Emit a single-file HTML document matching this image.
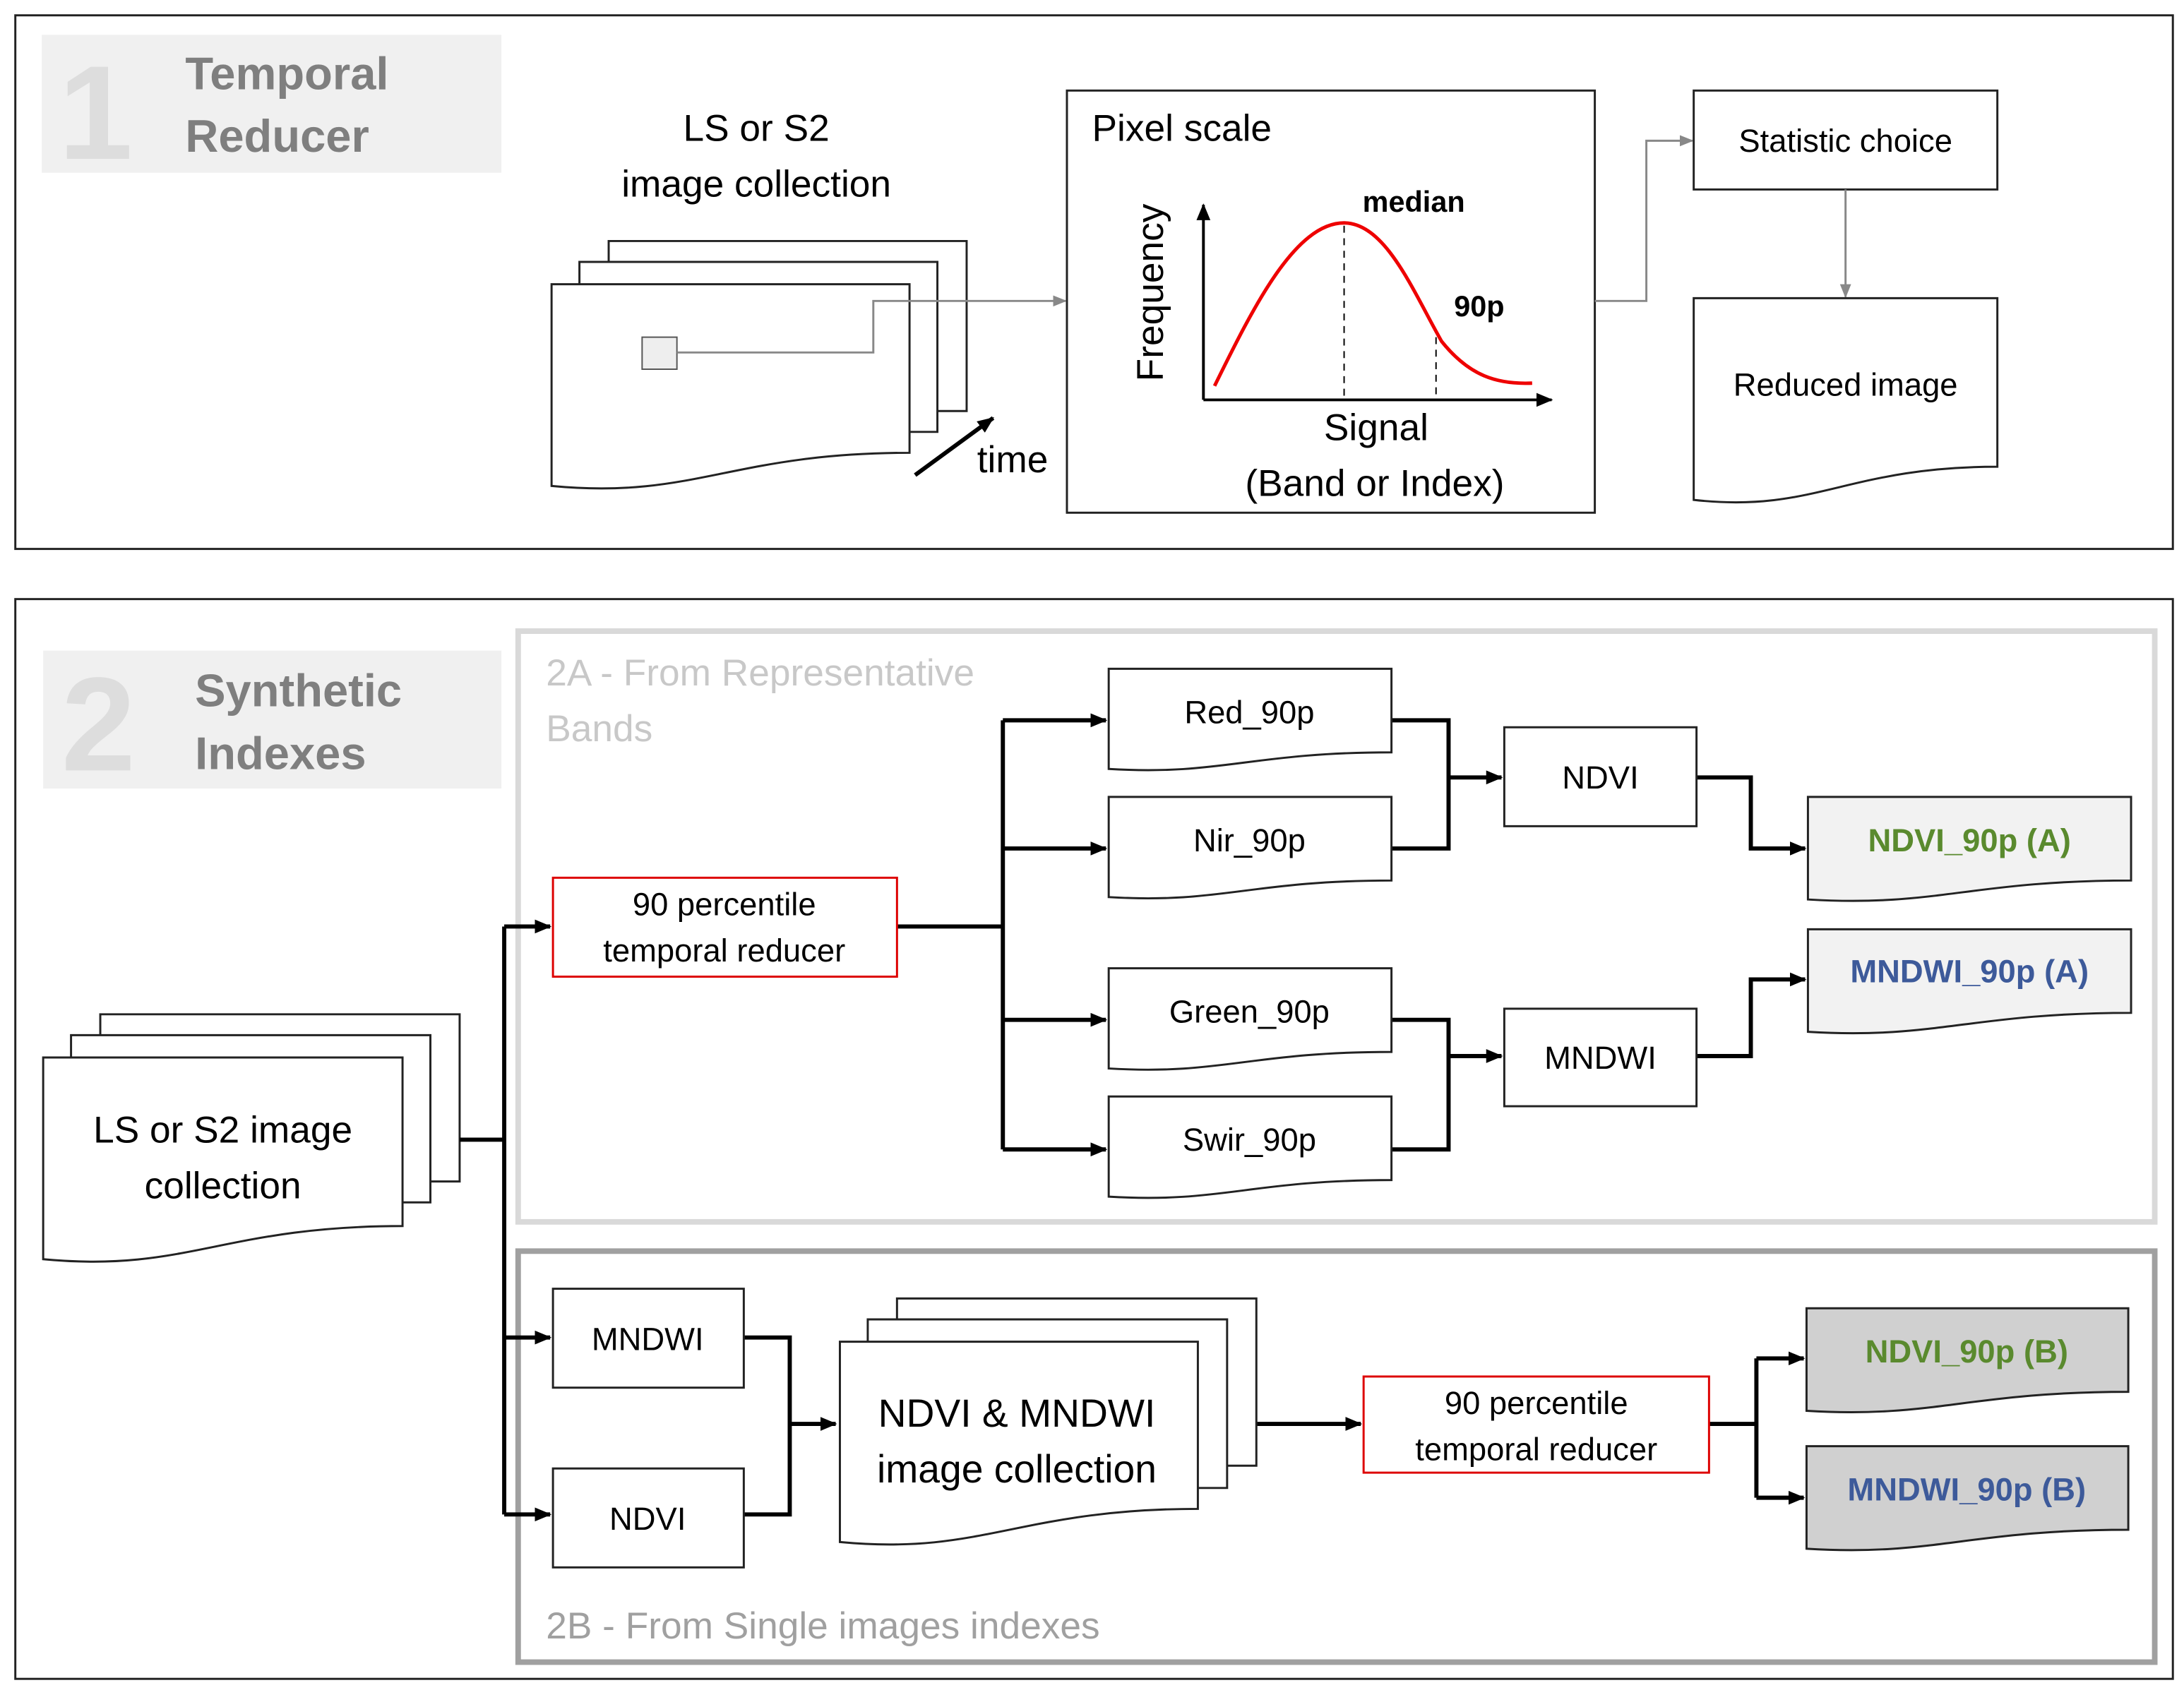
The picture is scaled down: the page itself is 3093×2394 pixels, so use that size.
<!DOCTYPE html>
<html><head><meta charset="utf-8"><style>
html,body{margin:0;padding:0;background:#fff}
svg{display:block}
text{font-family:"Liberation Sans","DejaVu Sans",sans-serif}
</style></head><body>
<svg id="s" width="3093" height="2394" viewBox="0 0 1568 1213" preserveAspectRatio="none" xmlns="http://www.w3.org/2000/svg">
<defs>
<marker id="ag" markerWidth="10" markerHeight="10" refX="9" refY="5" orient="auto" markerUnits="userSpaceOnUse"><path d="M0,1 L10,5 L0,9 z" fill="#888"/></marker>
<marker id="ab" markerWidth="12" markerHeight="12" refX="11" refY="6" orient="auto" markerUnits="userSpaceOnUse"><path d="M0,1 L12,6 L0,11 z" fill="#000"/></marker>
</defs>
<rect width="1568" height="1213" fill="#fff"/>
<!-- Panel 1 -->
<rect x="11" y="11" width="1549" height="383" fill="none" stroke="#222" stroke-width="1.5"/>
<rect x="30" y="25" width="330" height="99" fill="#f0f0f0"/>
<text x="42" y="114" font-size="96" font-weight="bold" fill="#ddd">1</text>
<text x="133" y="64" font-size="33" font-weight="bold" fill="#7f7f7f">Temporal</text>
<text x="133" y="109" font-size="33" font-weight="bold" fill="#7f7f7f">Reducer</text>
<g id="docs1"></g>
<rect x="461" y="242" width="25" height="23" fill="#eee" stroke="#555"/>
<polyline points="486,253 627,253 627,216 765,216" fill="none" stroke="#888" stroke-width="1.5" marker-end="url(#ag)"/>
<text x="543" y="101" font-size="27" text-anchor="middle">LS  or S2</text>
<text x="543" y="141" font-size="27" text-anchor="middle">image collection</text>
<line x1="657" y1="341" x2="713" y2="300" stroke="#000" stroke-width="3" marker-end="url(#ab)"/>
<text x="727" y="339" font-size="27" text-anchor="middle">time</text>
<rect x="766" y="65" width="379" height="303" fill="#fff" stroke="#222" stroke-width="1.5"/>
<text x="784" y="101" font-size="27">Pixel scale</text>
<line x1="864" y1="287" x2="864" y2="147" stroke="#000" stroke-width="2" marker-end="url(#ab)"/>
<line x1="864" y1="287" x2="1114" y2="287" stroke="#000" stroke-width="2" marker-end="url(#ab)"/>
<path d="M872,277 C900,220 930,160 965,160 C995,160 1015,210 1035,245 C1055,270 1075,276 1100,275" fill="none" stroke="#e00" stroke-width="2.5"/>
<line x1="965" y1="162" x2="965" y2="287" stroke="#000" stroke-dasharray="5,4"/>
<line x1="1031" y1="242" x2="1031" y2="287" stroke="#000" stroke-dasharray="5,4"/>
<text x="1015" y="152" font-size="21" font-weight="bold" text-anchor="middle">median</text>
<text x="1062" y="227" font-size="21" font-weight="bold" text-anchor="middle">90p</text>
<text x="0" y="0" font-size="27" text-anchor="middle" transform="translate(835,210) rotate(-90)">Frequency</text>
<text x="988" y="316" font-size="27" text-anchor="middle">Signal</text>
<text x="987" y="356" font-size="27" text-anchor="middle">(Band or Index)</text>
<polyline points="1145,216 1182,216 1182,101 1215,101" fill="none" stroke="#888" stroke-width="1.5" marker-end="url(#ag)"/>
<rect x="1216" y="65" width="218" height="71" fill="#fff" stroke="#222" stroke-width="1.5"/>
<text x="1325" y="109" font-size="23" text-anchor="middle">Statistic choice</text>
<line x1="1325" y1="136" x2="1325" y2="213" stroke="#888" stroke-width="1.5" marker-end="url(#ag)"/>
<g id="docs2"></g>
<text x="1325" y="284" font-size="23" text-anchor="middle">Reduced image</text>
<!-- Panel 2 -->
<rect x="11" y="430" width="1549" height="775" fill="none" stroke="#222" stroke-width="1.5"/>
<rect x="31" y="467" width="329" height="99" fill="#f0f0f0"/>
<text x="44" y="553" font-size="96" font-weight="bold" fill="#ddd">2</text>
<text x="140" y="507" font-size="33" font-weight="bold" fill="#7f7f7f">Synthetic</text>
<text x="140" y="552" font-size="33" font-weight="bold" fill="#7f7f7f">Indexes</text>
<rect x="372" y="453" width="1175" height="424" fill="none" stroke="#d9d9d9" stroke-width="4"/>
<text x="392" y="492" font-size="27" fill="#c8c8c8">2A - From Representative</text>
<text x="392" y="532" font-size="27" fill="#c8c8c8">Bands</text>
<rect x="372" y="898" width="1175" height="295" fill="none" stroke="#a0a0a0" stroke-width="4"/>
<text x="392" y="1176" font-size="27" fill="#a0a0a0">2B - From Single images indexes</text>
<g id="docs3"></g>
<text x="160" y="820" font-size="27" text-anchor="middle">LS  or S2  image</text>
<text x="160" y="860" font-size="27" text-anchor="middle">collection</text>
<g fill="none" stroke="#000" stroke-width="3">
<line x1="330" y1="818" x2="362" y2="818"/>
<line x1="362" y1="665" x2="362" y2="1087"/>
<line x1="362" y1="665" x2="395" y2="665" marker-end="url(#ab)"/>
<line x1="362" y1="960" x2="395" y2="960" marker-end="url(#ab)"/>
<line x1="362" y1="1087" x2="395" y2="1087" marker-end="url(#ab)"/>
<line x1="644" y1="665" x2="720" y2="665"/>
<line x1="720" y1="517" x2="720" y2="825"/>
<line x1="720" y1="517" x2="794" y2="517" marker-end="url(#ab)"/>
<line x1="720" y1="609" x2="794" y2="609" marker-end="url(#ab)"/>
<line x1="720" y1="732" x2="794" y2="732" marker-end="url(#ab)"/>
<line x1="720" y1="825" x2="794" y2="825" marker-end="url(#ab)"/>
<polyline points="999,517 1040,517 1040,609 999,609"/>
<line x1="1040" y1="558" x2="1078" y2="558" marker-end="url(#ab)"/>
<polyline points="999,732 1040,732 1040,825 999,825"/>
<line x1="1040" y1="758" x2="1078" y2="758" marker-end="url(#ab)"/>
<polyline points="1218,558 1257,558 1257,609 1296,609" marker-end="url(#ab)"/>
<polyline points="1218,758 1257,758 1257,703 1296,703" marker-end="url(#ab)"/>
<polyline points="534,960 567,960 567,1087 534,1087"/>
<line x1="567" y1="1022" x2="600" y2="1022" marker-end="url(#ab)"/>
<line x1="902" y1="1022" x2="977" y2="1022" marker-end="url(#ab)"/>
<line x1="1227" y1="1022" x2="1261" y2="1022"/>
<line x1="1261" y1="975" x2="1261" y2="1075"/>
<line x1="1261" y1="975" x2="1295" y2="975" marker-end="url(#ab)"/>
<line x1="1261" y1="1075" x2="1295" y2="1075" marker-end="url(#ab)"/>
</g>
<rect x="397" y="630" width="247" height="71" fill="#fff" stroke="#d00" stroke-width="1.5"/>
<text x="520" y="657" font-size="23" text-anchor="middle">90 percentile</text>
<text x="520" y="690" font-size="23" text-anchor="middle">temporal reducer</text>
<rect x="979" y="988" width="248" height="69" fill="#fff" stroke="#d00" stroke-width="1.5"/>
<text x="1103" y="1015" font-size="23" text-anchor="middle">90 percentile</text>
<text x="1103" y="1048" font-size="23" text-anchor="middle">temporal reducer</text>
<g fill="#fff" stroke="#222" stroke-width="1.5">
<rect x="1080" y="522" width="138" height="71"/>
<rect x="1080" y="724" width="138" height="70"/>
<rect x="397" y="925" width="137" height="71"/>
<rect x="397" y="1054" width="137" height="71"/>
</g>
<text x="1149" y="566" font-size="23" text-anchor="middle">NDVI</text>
<text x="1149" y="767" font-size="23" text-anchor="middle">MNDWI</text>
<text x="465" y="969" font-size="23" text-anchor="middle">MNDWI</text>
<text x="465" y="1098" font-size="23" text-anchor="middle">NDVI</text>
<g id="docs4"></g>
<text x="897" y="519" font-size="23" text-anchor="middle">Red_90p</text>
<text x="897" y="611" font-size="23" text-anchor="middle">Nir_90p</text>
<text x="897" y="734" font-size="23" text-anchor="middle">Green_90p</text>
<text x="897" y="826" font-size="23" text-anchor="middle">Swir_90p</text>
<text x="1414" y="611" font-size="23" font-weight="bold" fill="#5a8a2e" text-anchor="middle">NDVI_90p (A)</text>
<text x="1414" y="705" font-size="23" font-weight="bold" fill="#3d5a9a" text-anchor="middle">MNDWI_90p (A)</text>
<text x="1412" y="978" font-size="23" font-weight="bold" fill="#5a8a2e" text-anchor="middle">NDVI_90p (B)</text>
<text x="1412" y="1077" font-size="23" font-weight="bold" fill="#3d5a9a" text-anchor="middle">MNDWI_90p (B)</text>
<text x="730" y="1024" font-size="28" text-anchor="middle">NDVI &amp; MNDWI</text>
<text x="730" y="1064" font-size="28" text-anchor="middle">image collection</text>
</svg>
<script>
function doc(g,x1,y1,x2,y2,d,fill){
  var w=x2-x1;
  var p=document.createElementNS("http://www.w3.org/2000/svg","path");
  p.setAttribute("d","M"+x1+","+y1+" H"+x2+" V"+y2+" C"+(x2-0.5*w)+","+y2+" "+(x1+0.4*w)+","+(y2+1.2*d)+" "+x1+","+(y2+0.85*d)+" Z");
  p.setAttribute("fill",fill||"#fff");p.setAttribute("stroke","#222");p.setAttribute("stroke-width","1.5");
  document.getElementById(g).appendChild(p);
}
doc("docs1",437,173,694,295,0,"#fff");
doc("docs1",416,188,673,310,0,"#fff");
doc("docs1",396,204,653,325,28,"#fff");
doc("docs2",1216,214,1434,335,28,"#fff");
doc("docs3",72,728,330,848,0,"#fff");
doc("docs3",51,743,309,863,0,"#fff");
doc("docs3",31,759,289,880,28,"#fff");
doc("docs4",796,480,999,540,14,"#fff");
doc("docs4",796,572,999,632,14,"#fff");
doc("docs4",796,695,999,755,14,"#fff");
doc("docs4",796,787,999,847,14,"#fff");
doc("docs4",1298,572,1530,632,16,"#f2f2f2");
doc("docs4",1298,667,1530,727,16,"#f2f2f2");
doc("docs4",1297,939,1528,999,16,"#d0d0d0");
doc("docs4",1297,1038,1528,1098,16,"#d0d0d0");
doc("docs4",644,932,902,1052,0,"#fff");
doc("docs4",623,947,881,1068,0,"#fff");
doc("docs4",603,963,860,1083,28,"#fff");
</script>
</body></html>
